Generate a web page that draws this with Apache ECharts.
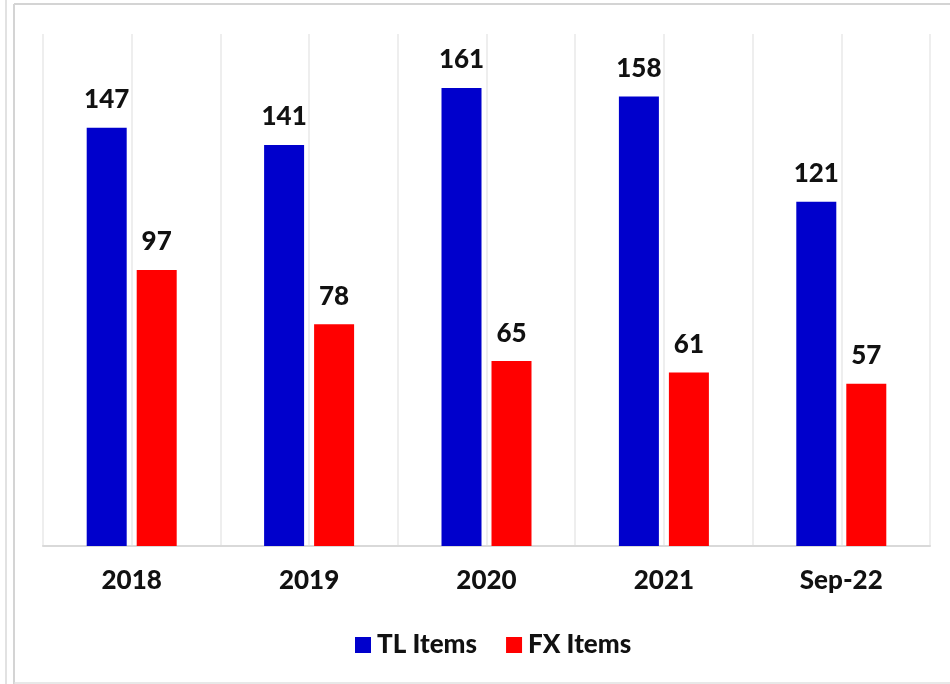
<!DOCTYPE html>
<html>
<head>
<meta charset="utf-8">
<script src="https://cdn.jsdelivr.net/npm/echarts@6/dist/echarts.min.js"></script>
<style>
  html, body { margin: 0; padding: 0; background: #ffffff; }
  #chart { width: 950px; height: 684px; }
</style>
</head>
<body>
<div id="chart"></div>
<script>
// Yearly item counts
const categories = ['2018', '2019', '2020', '2021', 'Sep-22'];
const tlItems = [147, 141, 161, 158, 121];
const fxItems = [97, 78, 65, 61, 57];

// Half-category slots used only to place the light vertical grid lines
const halfSlots = [];
categories.forEach(c => { halfSlots.push(c + ' a', c + ' b'); });

const FONT = 'Lato, "Open Sans", sans-serif';
const TEXT = { fontFamily: FONT, fontWeight: 900, fontSize: 26, color: '#111111' };

const chart = echarts.init(document.getElementById('chart'));
chart.setOption({
  backgroundColor: '#ffffff',
  animation: false,
  grid: { left: 43, right: 20, top: 34, bottom: 138 },
  graphic: [
    { type: 'line', shape: { x1: 6, y1: 0, x2: 6, y2: 684 }, style: { stroke: '#d9d9d9', lineWidth: 1.5 } },
    { type: 'line', shape: { x1: 14, y1: 4, x2: 14, y2: 684 }, style: { stroke: '#d4d4d4', lineWidth: 2 } },
    { type: 'line', shape: { x1: 14, y1: 4, x2: 950, y2: 4 }, style: { stroke: '#d4d4d4', lineWidth: 2 } },
    { type: 'line', shape: { x1: 14, y1: 683, x2: 950, y2: 683 }, style: { stroke: '#e0e0e0', lineWidth: 1.5 } }
  ],
  legend: {
    top: 627,
    left: 350,
    itemWidth: 16,
    itemHeight: 16,
    itemGap: 29,
    icon: 'rect',
    textStyle: Object.assign({}, TEXT, { padding: [0, 0, 0, 1] }),
    data: ['TL Items', 'FX Items']
  },
  xAxis: [
    {
      type: 'category',
      data: categories,
      axisLine: { lineStyle: { color: '#d9d9d9', width: 2 } },
      axisTick: { show: false },
      splitLine: { show: false },
      axisLabel: Object.assign({ margin: 22 }, TEXT)
    },
    {
      type: 'category',
      data: halfSlots,
      position: 'bottom',
      axisLine: { show: false },
      axisTick: { show: false },
      axisLabel: { show: false },
      splitLine: { show: true, lineStyle: { color: '#eeeeee', width: 2 } }
    }
  ],
  yAxis: {
    type: 'value',
    min: 0,
    max: 180,
    show: false,
    splitLine: { show: false }
  },
  series: [
    {
      name: 'TL Items',
      type: 'bar',
      xAxisIndex: 0,
      data: tlItems,
      barWidth: 40,
      barGap: '25%',
      itemStyle: { color: '#0000cc' },
      z: 3,
      label: Object.assign({ show: true, position: 'top', distance: 15 }, TEXT)
    },
    {
      name: 'FX Items',
      type: 'bar',
      xAxisIndex: 0,
      data: fxItems,
      barWidth: 40,
      barGap: '25%',
      itemStyle: { color: '#ff0000' },
      z: 3,
      label: Object.assign({ show: true, position: 'top', distance: 15 }, TEXT)
    }
  ]
});
</script>
</body>
</html>
